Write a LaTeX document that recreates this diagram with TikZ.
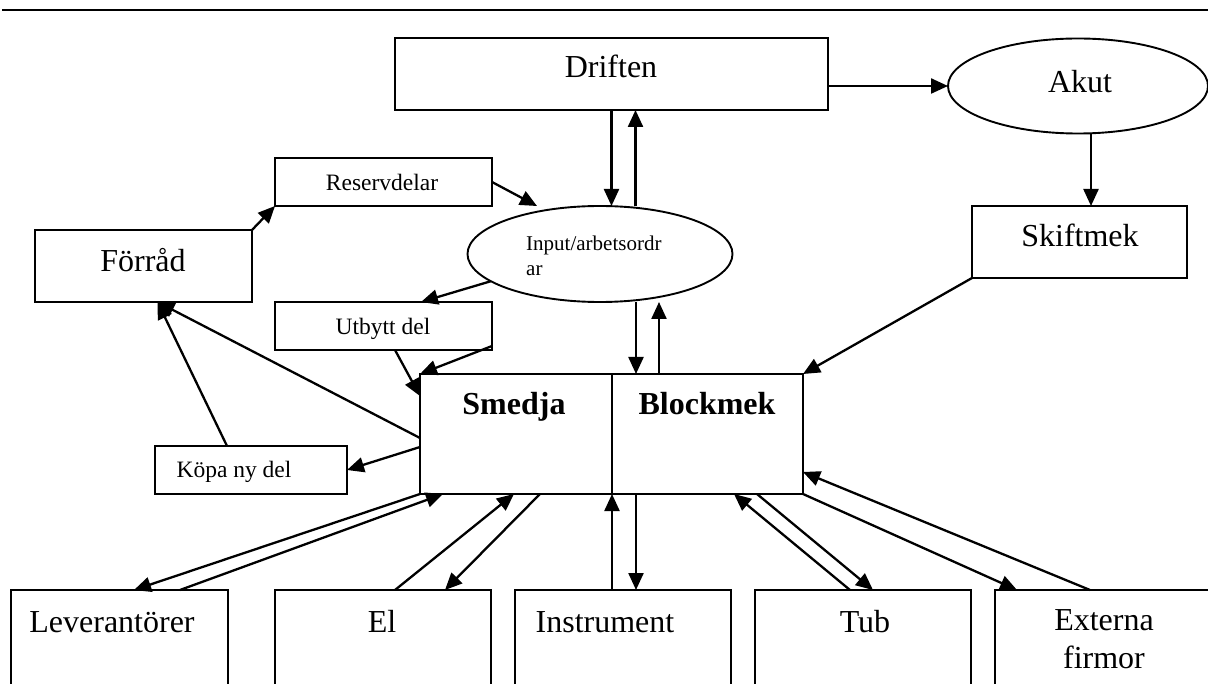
\documentclass[tikz,border=0pt]{standalone}
\usepackage{fontspec}
\setmainfont{Liberation Serif}
\usetikzlibrary{arrows.meta,shapes.geometric}
\begin{document}
\begin{tikzpicture}[x=1pt,y=-1pt]
\tikzset{
  frame/.style={draw, line width=1.9pt, inner sep=0pt, outer sep=0pt, anchor=north west},
  oval/.style={draw, ellipse, line width=1.9pt, inner sep=0pt, outer sep=0pt},
  arr/.style={line width=2.3pt, -{Triangle[length=17pt,width=15pt]}},
  big/.style={font=\fontsize{32pt}{38pt}\selectfont, anchor=base, inner sep=0pt, align=center},
  small/.style={font=\fontsize{23.5pt}{28pt}\selectfont, anchor=base, inner sep=0pt},
  heavy/.style={font=\fontsize{32pt}{38pt}\selectfont\bfseries, anchor=base, inner sep=0pt},
}
\useasboundingbox (0,0) rectangle (1208,684);
\clip (0,0) rectangle (1208,684);

% header rule
\draw[line width=2.8pt] (2,10) -- (1208,10);

% boxes and ovals
\node[frame, minimum width=433pt, minimum height=72pt] (drift) at (395,38) {};
\node[oval, minimum width=260pt, minimum height=95pt] (akut) at (1078,86) {};
\node[frame, minimum width=215pt, minimum height=72pt] (skift) at (972,206) {};
\node[frame, minimum width=217pt, minimum height=48pt] (res) at (275,158) {};
\node[frame, minimum width=217pt, minimum height=72pt] (forrad) at (35,230) {};
\node[frame, minimum width=217pt, minimum height=48pt] (utbytt) at (275,302) {};
\node[frame, minimum width=192pt, minimum height=48pt] (kopa) at (155,446) {};
\node[oval, minimum width=265pt, minimum height=96pt] (inp) at (600,254) {};
\node[frame, minimum width=192pt, minimum height=120pt] (smedja) at (420,374) {};
\node[frame, minimum width=191pt, minimum height=120pt] (block) at (612,374) {};
\node[frame, minimum width=217pt, minimum height=120pt] (lev) at (11,590) {};
\node[frame, minimum width=216pt, minimum height=120pt] (el) at (275,590) {};
\node[frame, minimum width=216pt, minimum height=120pt] (instr) at (515,590) {};
\node[frame, minimum width=216pt, minimum height=120pt] (tub) at (755,590) {};
\node[frame, minimum width=240pt, minimum height=120pt] (ext) at (995,590) {};

% labels (multi-line labels are anchored on their last baseline)
\node[big] (tdrift) at (611,78) {Driften};
\node[big] (takut) at (1080,93) {Akut};
\node[big] (tskift) at (1080,247) {Skiftmek};
\node[small] (tres) at (382,191) {Reservdelar};
\node[big] (tforrad) at (143,272) {Förråd};
\node[font=\fontsize{21pt}{25pt}\selectfont, align=left, anchor=base west, inner sep=0pt] (tinp) at (526,276) {Input/arbetsordr\\ar};
\node[small] (tutbytt) at (383,335) {Utbytt del};
\node[small] (tkopa) at (234,478) {Köpa ny del};
\node[heavy] (tsmedja) at (514,415) {Smedja};
\node[heavy] (tblock) at (707,415) {Blockmek};
\node[big] (tlev) at (112,632) {Leverantörer};
\node[big] (tel) at (382,632) {El};
\node[big] (tinstr) at (605,632) {Instrument};
\node[big] (ttub) at (865,632) {Tub};
\node[big] (text) at (1104,668) {Externa\\firmor};

% helper points on the Driften and order ovals
\coordinate (dA) at (drift.south);
\coordinate (dB) at ([xshift=24pt]drift.south);
\coordinate (iA) at ([xshift=36pt]inp.south);
\coordinate (iB) at ([xshift=59pt]inp.south);
\coordinate (kA) at ([xshift=13pt]akut.south);
\coordinate (fA) at ([xshift=14pt]forrad.south);

% upper flows
\draw[arr] (drift.east |- akut.west) -- (akut.west);
\draw[arr] (kA) -- (kA |- skift.north);
\draw[arr] (dA) -- (dA |- inp.north);
\draw[arr] (dB |- inp.north) -- (dB);
\draw[arr] (iA) -- (iA |- block.north);
\draw[arr] (iB |- block.north) -- (iB);
\draw[arr] (res.east) -- ([xshift=-63pt]inp.north);
\draw[arr] (forrad.north east) -- (res.south west);
\draw[arr] (inp.194) -- ([xshift=146pt]utbytt.north west);
\draw[arr] ([yshift=4pt]utbytt.south east) -- (smedja.north west);
\draw[arr] ([xshift=120pt]utbytt.south west) -- ([yshift=-22pt]smedja.north west);
\draw[arr] ([yshift=-73pt]smedja.north west) -- (kopa.east);
\draw[arr] ([yshift=-64pt]smedja.north west) -- (fA);
\draw[arr] ([xshift=72pt]kopa.north west) -- (fA);
\draw[arr] (skift.south west) -- (block.north east);

% lower flows
\draw[arr] (smedja.south west) -- ([xshift=123pt]lev.north west);
\draw[arr] ([xshift=169pt]lev.north west) -- ([xshift=23pt]smedja.south west);
\draw[arr] ([xshift=120pt]el.north west) -- ([xshift=94pt]smedja.south west);
\draw[arr] ([xshift=120pt]smedja.south west) -- ([xshift=170pt]el.north west);
\draw[arr] ([xshift=97pt]instr.north west) -- (smedja.south east);
\draw[arr] ([xshift=24pt]block.south west) -- ([xshift=121pt]instr.north west);
\draw[arr] ([xshift=95pt]tub.north west) -- ([xshift=122pt]block.south west);
\draw[arr] ([xshift=145pt]block.south west) -- ([xshift=118pt]tub.north west);
\draw[arr] (block.south east) -- ([xshift=22pt]ext.north west);
\draw[arr] ([xshift=95pt]ext.north west) -- ([yshift=22pt]block.south east);
\end{tikzpicture}
\end{document}
